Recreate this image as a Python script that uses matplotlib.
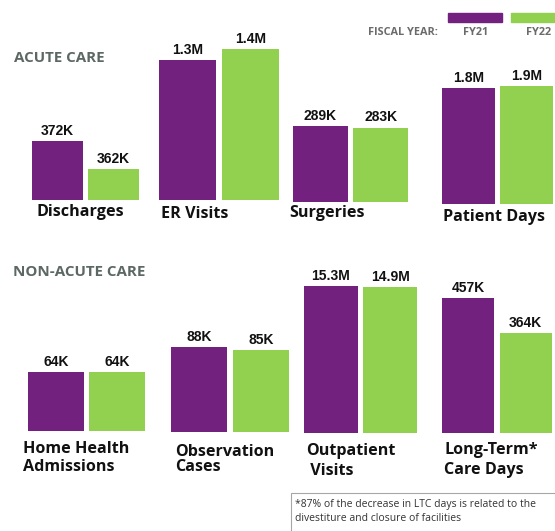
import matplotlib
matplotlib.use("Agg")
import matplotlib.pyplot as plt
from matplotlib.patches import Rectangle

# ── data ────────────────────────────────────────────────────────────────
acute_labels = [["Discharges"], ["ER Visits"], ["Surgeries"], ["Patient Days"]]
acute_fy21 = [372_000, 1_300_000, 289_000, 1_800_000]
acute_fy22 = [362_000, 1_400_000, 283_000, 1_900_000]

nonacute_labels = [["Home Health", "Admissions"], ["Observation", "Cases"],
                   ["Outpatient", " Visits"], ["Long-Term*", "Care Days"]]
nonacute_fy21 = [64_000, 88_000, 15_300_000, 457_000]
nonacute_fy22 = [64_000, 85_000, 14_900_000, 364_000]

series_names = ["FY21", "FY22"]
footnote = ["*87% of the decrease in LTC days is related to the",
            "divestiture and closure of facilities"]

# each mini chart has its own (truncated) value axis, like the original infographic
acute_ylims = [(351e3, 411.7e3), (0, 1.576e6), (0, 654e3), (-5e6, 5.2e6)]
nonacute_ylims = [(0, 185.5e3), (0, 178e3), (-60e6, 28.6e6), (98e3, 557.7e3)]

# ── style / layout ──────────────────────────────────────────────────────
W, H = 555, 531
PURPLE = "#73217F"
GREEN = "#92D050"
HEAD = "#5C6863"
LABEL_FONT = ["Open Sans", "DejaVu Sans"]
VALUE_FONT = ["Liberation Sans", "DejaVu Sans"]

# (left px, right px, baseline px) of each pair of bars
acute_boxes = [(32, 139, 200), (159, 279, 200), (293, 408, 202), (442, 553, 204)]
nonacute_boxes = [(28, 145, 431), (171, 289, 432), (304, 417, 433), (442, 552, 433)]
acute_top, nonacute_top = 30, 260
# (x px, first baseline px, second baseline px) of category labels
acute_label_pos = [(37, 216, 0), (161, 218, 0), (289, 217, 0), (443, 221, 0)]
nonacute_label_pos = [(23, 453, 471), (175, 456, 471), (306, 455, 475), (444, 454, 474)]
BAR_W = 0.91


def fx(x):
    return x / W


def fy(y):
    return 1 - y / H


def fmt(v):
    if v >= 1e6:
        return f"{v / 1e6:.1f}M"
    return f"{v / 1e3:.0f}K"


fig = plt.figure(figsize=(W / 100, H / 100), dpi=100)


def draw_row(boxes, top, fy21, fy22, ylims, labels, label_pos):
    for (l, r, b), v1, v2, yl, lab, (lx, ly1, ly2) in zip(
            boxes, fy21, fy22, ylims, labels, label_pos):
        ax = fig.add_axes([fx(l), fy(b), fx(r - l), (b - top) / H])
        ax.set_axis_off()
        ax.set_xlim(-BAR_W / 2, 1 + BAR_W / 2)
        ax.set_ylim(*yl)
        lo = yl[0]
        ax.bar([0, 1], [v1 - lo, v2 - lo], width=BAR_W, bottom=lo,
               color=[PURPLE, GREEN], linewidth=0)
        for i, v in enumerate([v1, v2]):
            ax.annotate(fmt(v), (i, v), xytext=(0, 4.5), textcoords="offset points",
                        ha="center", va="baseline", fontsize=10, fontweight="bold",
                        family=VALUE_FONT, color="#111111")
        for txt, yy in zip(lab, [ly1, ly2]):
            fig.text(fx(lx), fy(yy), txt, ha="left", va="baseline", fontsize=11.6,
                     fontweight="bold", family=LABEL_FONT, color="#111111")


draw_row(acute_boxes, acute_top, acute_fy21, acute_fy22, acute_ylims,
         acute_labels, acute_label_pos)
draw_row(nonacute_boxes, nonacute_top, nonacute_fy21, nonacute_fy22, nonacute_ylims,
         nonacute_labels, nonacute_label_pos)

# section headings
fig.text(fx(14), fy(61.5), "ACUTE CARE", fontsize=10.9, fontweight="bold",
         family=LABEL_FONT, color=HEAD, va="baseline")
fig.text(fx(13), fy(275.5), "NON-ACUTE CARE", fontsize=10.9, fontweight="bold",
         family=LABEL_FONT, color=HEAD, va="baseline")

# legend
fig.add_artist(Rectangle((fx(448), fy(22)), fx(54), 9 / H, color=PURPLE,
                         transform=fig.transFigure))
fig.add_artist(Rectangle((fx(511), fy(22)), fx(50), 9 / H, color=GREEN,
                         transform=fig.transFigure))
fig.text(fx(368), fy(35), "FISCAL YEAR:", fontsize=7.8, fontweight="bold",
         family=LABEL_FONT, color="#6B6B6B", va="baseline")
for name, cx in zip(series_names, [476, 539]):
    fig.text(fx(cx), fy(35), name, fontsize=7.8, fontweight="bold",
             family=LABEL_FONT, color="#6B6B6B", va="baseline", ha="center")

# footnote box
fig.add_artist(Rectangle((fx(291), fy(540)), fx(270), 47 / H, fill=False,
                         edgecolor="#A6A6A6", linewidth=0.8,
                         transform=fig.transFigure))
for txt, yy in zip(footnote, [507.5, 521]):
    fig.text(fx(295), fy(yy), txt, fontsize=7.5, family=LABEL_FONT,
             color="#333333", va="baseline")

fig.savefig("out.png", dpi=100)
